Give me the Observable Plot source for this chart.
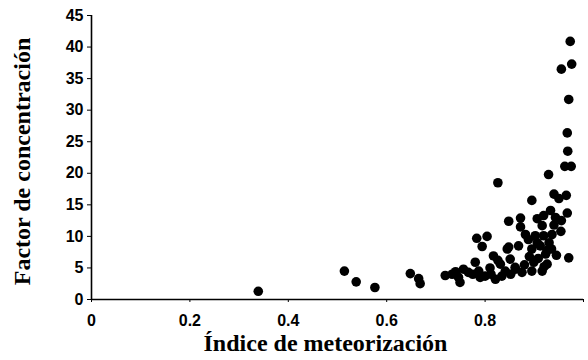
<!DOCTYPE html>
<html><head><meta charset="utf-8">
<script src="https://cdn.jsdelivr.net/npm/d3@7"></script>
<script src="https://cdn.jsdelivr.net/npm/@observablehq/plot@0.6"></script>
<style>body{margin:0;background:#fff}</style>
</head><body><div id="chart"></div>
<script>
const indice = [0.339,0.514,0.538,0.576,0.648,0.665,0.668,0.719,0.733,0.746,0.749,0.756,0.766,0.775,0.780,0.787,0.790,0.800,0.810,0.812,0.821,0.817,0.831,0.834,0.841,0.845,0.851,0.852,0.861,0.875,0.880,0.895,0.906,0.899,0.895,0.908,0.916,0.920,0.926,0.923,0.926,0.945,0.882,0.902,0.919,0.936,0.916,0.940,0.783,0.804,0.794,0.848,0.868,0.888,0.912,0.930,0.954,0.955,0.970,0.872,0.848,0.872,0.906,0.919,0.943,0.933,0.967,0.895,0.950,0.940,0.965,0.826,0.929,0.962,0.975,0.968,0.967,0.970,0.955,0.976,0.973,0.740,0.826,0.862,0.890,0.935];
const factor = [1.3,4.5,2.8,1.9,4.1,3.3,2.5,3.8,4.0,3.5,2.7,4.8,4.3,4.0,5.9,4.5,3.5,3.7,5.0,4.0,3.2,6.9,5.6,3.7,4.5,8.0,6.4,4.0,5.1,4.3,5.5,8.0,9.0,5.9,4.5,6.5,4.5,5.2,5.6,7.2,7.8,7.0,10.3,10.1,10.1,10.3,11.7,11.8,9.7,10.0,8.4,8.3,8.5,9.5,8.5,9.0,10.8,12.5,6.6,11.5,12.4,12.9,12.8,13.3,13.0,14.1,13.7,15.7,16.0,16.7,16.5,18.5,19.8,21.1,21.1,23.5,26.4,31.7,36.5,37.3,40.9,4.4,6.2,4.8,6.8,8.0];
const xTicks = [0, 0.2, 0.4, 0.6, 0.8, 1];
const xTickLabels = ["0", "0.2", "0.4", "0.6", "0.8", ""];
const yTicks = [0, 5, 10, 15, 20, 25, 30, 35, 40, 45];
const xLabel = "Índice de meteorización";
const yLabel = "Factor de concentración";

const data = indice.map((x, i) => ({x, y: factor[i]}));
const sans = "Liberation Sans, Arial, sans-serif";
const serif = "Liberation Serif, Times New Roman, serif";

const chart = Plot.plot({
  width: 588, height: 360,
  marginLeft: 91, marginRight: 5, marginTop: 15, marginBottom: 61,
  style: {background: "#fff", color: "#000"},
  x: {domain: [0, 1]},
  y: {domain: [0, 45]},
  marks: [
    Plot.ruleY([0], {stroke: "#000", strokeWidth: 1.6}),
    Plot.ruleX([0], {stroke: "#000", strokeWidth: 1.6}),
    Plot.axisX({ticks: xTicks, tickFormat: d => xTickLabels[xTicks.indexOf(d)], tickSize: 3, tickPadding: 12, fontSize: 16, fontWeight: "bold", fontFamily: sans, label: null}),
    Plot.axisY({ticks: yTicks, tickSize: 4, tickPadding: 4, fontSize: 16, fontWeight: "bold", fontFamily: sans, label: null}),
    Plot.text([xLabel], {text: d => d, frameAnchor: "bottom", dx: -12, dy: 44, lineAnchor: "middle", textAnchor: "middle", fontSize: 24, fontWeight: "bold", fontFamily: serif, fill: "#000"}),
    Plot.text([yLabel], {text: d => d, frameAnchor: "left", dx: -69, dy: 4, rotate: -90, lineAnchor: "middle", textAnchor: "middle", fontSize: 24, fontWeight: "bold", fontFamily: serif, fill: "#000"}),
    Plot.dot(data, {x: "x", y: "y", r: 4.8, fill: "#000", stroke: "none"})
  ]
});
document.getElementById("chart").appendChild(chart);
</script>
</body></html>
